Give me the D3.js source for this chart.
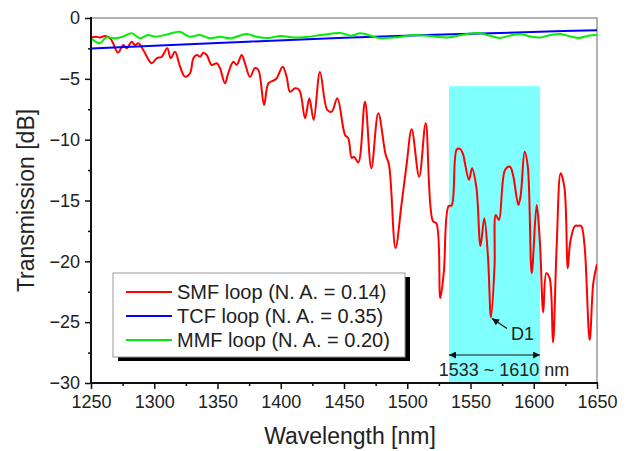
<!DOCTYPE html>
<html><head><meta charset="utf-8">
<script src="https://cdn.jsdelivr.net/npm/d3@7"></script>
<style>
html,body{margin:0;padding:0;background:#fff;}
svg{display:block;font-family:"Liberation Sans",Arial,sans-serif;}
</style></head>
<body><svg id="c" width="630" height="451"></svg>
<script>
// ---- data ----
const redWl = [1250,1254.0,1257.1,1261.1,1265.0,1267.4,1271.3,1275.5,1278.2,1282.2,1284.8,1287.4,1291.3,1298.0,1301.9,1305.9,1310.3,1313.0,1316.4,1320.4,1324.3,1328.3,1330.9,1333.6,1336.2,1338.8,1341.5,1345.4,1349.4,1352.0,1355.9,1358.5,1362.5,1365.2,1369.1,1371.7,1375.7,1379.6,1382.3,1386.8,1390.2,1394.1,1396.8,1401.5,1404.7,1407.3,1411.3,1414.7,1419.2,1422.6,1426.0,1431.0,1436.8,1440.3,1444.7,1450.8,1453.4,1456.1,1457.9,1461.3,1466.6,1471.6,1477.1,1482.8,1485.6,1490.7,1495.6,1499.6,1503.5,1509.4,1514.6,1520.2,1523.1,1526.1,1528.9,1532.7,1535.1,1539.1,1541.7,1544.3,1545.6,1548.8,1551.2,1554.7,1557.9,1560.9,1563.8,1566.2,1569.0,1570.0,1572.5,1577.3,1581.2,1583.8,1587.8,1589.7,1592.8,1595.3,1598.4,1602.3,1604.9,1607.5,1609.9,1612.5,1615.2,1618.1,1621.3,1624.3,1626.9,1628.9,1632.6,1635.0,1637.5,1640.1,1644.2,1647.1,1650];
const redDb = [-1.60,-1.54,-1.60,-1.48,-1.67,-2.05,-2.85,-2.22,-2.49,-1.95,-2.22,-2.08,-2.63,-3.72,-3.31,-3.18,-2.49,-3.31,-2.77,-4.00,-4.82,-4.54,-3.31,-3.04,-3.18,-2.85,-3.04,-3.86,-3.72,-4.13,-5.37,-4.54,-3.59,-3.86,-3.04,-3.72,-4.85,-4.11,-4.27,-7.15,-5.37,-5.15,-4.95,-4.00,-4.85,-6.06,-5.78,-5.92,-8.24,-6.60,-8.38,-4.44,-7.56,-7.70,-6.60,-9.61,-9.89,-11.50,-11.40,-11.87,-6.88,-12.35,-7.83,-11.18,-12.08,-18.90,-15.20,-11.94,-9.15,-13.04,-8.65,-16.68,-16.89,-23.01,-20.87,-15.45,-15.41,-10.81,-10.76,-11.26,-11.92,-13.31,-12.35,-13.97,-18.73,-16.46,-19.61,-24.61,-20.38,-16.19,-16.60,-12.49,-12.22,-12.98,-15.37,-14.54,-10.99,-12.22,-20.98,-15.37,-18.49,-24.20,-20.98,-21.36,-26.66,-18.79,-12.76,-13.97,-20.57,-18.37,-17.09,-17.08,-17.09,-18.65,-26.46,-21.78,-20.22];
const blueWl = [1250,1350,1450,1550,1650];
const blueDb = [-2.5,-2.05,-1.62,-1.3,-1.0];
const greenWl = [1250,1257,1262,1270,1276,1282,1289,1295,1301,1310,1320,1328,1336,1344,1352,1360,1373,1381,1390,1400,1410,1420,1432,1447,1456,1463,1478,1494,1505,1518,1532,1545,1557,1565,1573,1581,1589,1597,1605,1613,1621,1629,1636,1643,1650];
const greenDb = [-1.67,-2.08,-1.60,-1.67,-1.50,-1.26,-1.67,-1.40,-1.54,-1.35,-1.13,-1.54,-1.40,-1.67,-1.54,-1.67,-1.32,-1.54,-1.64,-1.48,-1.60,-1.56,-1.40,-1.23,-1.45,-1.26,-1.64,-1.56,-1.40,-1.48,-1.60,-1.35,-1.23,-1.45,-1.64,-1.45,-1.31,-1.52,-1.60,-1.40,-1.31,-1.52,-1.64,-1.45,-1.40];
const seriesNames = ["SMF loop (N. A. = 0.14)","TCF loop (N. A. = 0.35)","MMF loop (N. A. = 0.20)"];
const seriesColors = ["#ff0000","#0000ff","#00ee00"];
const xTicks = [1250,1300,1350,1400,1450,1500,1550,1600,1650];
const xMinor = [1275,1325,1375,1425,1475,1525,1575,1625];
const yTicks = [0,-5,-10,-15,-20,-25,-30];
const yMinor = [-2.5,-7.5,-12.5,-17.5,-22.5,-27.5];
const band = [1533,1605];       // shaded region
const bandTop = -5.6;
const bandLabel = "1533 ~ 1610 nm";
const arrowDb = -27.7;
const d1 = {wl:1566.2, db:-24.61, label:"D1"};

// ---- layout ----
const L=91, R=597, T=18, B=383;
const svg = d3.select("#c");
const x = d3.scaleLinear().domain([1250,1650]).range([L,R]);
const y = d3.scaleLinear().domain([-30,0]).range([B,T]);

// shaded band
svg.append("rect").attr("x",x(band[0])).attr("y",y(bandTop))
  .attr("width",x(band[1])-x(band[0])).attr("height",y(-30)-y(bandTop))
  .attr("fill","#80ffff");

// frame top/right
svg.append("rect").attr("x",L).attr("y",T).attr("width",R-L).attr("height",B-T)
  .attr("fill","none").attr("stroke","#666").attr("stroke-width",1);

svg.append("clipPath").attr("id","pc").append("rect")
  .attr("x",L).attr("y",T-2).attr("width",R-L).attr("height",B-T+2);

const g = svg.append("g").attr("clip-path","url(#pc)");
const mk = (wl,db,curve)=>d3.line().x((d,i)=>x(wl[i])).y((d,i)=>y(db[i])).curve(curve)(wl);
g.append("path").attr("d",mk(redWl,redDb,d3.curveCatmullRom.alpha(0.5)))
  .attr("fill","none").attr("stroke",seriesColors[0]).attr("stroke-width",2).attr("stroke-linejoin","round");
g.append("path").attr("d",mk(blueWl,blueDb,d3.curveMonotoneX))
  .attr("fill","none").attr("stroke",seriesColors[1]).attr("stroke-width",2);
g.append("path").attr("d",mk(greenWl,greenDb,d3.curveCatmullRom.alpha(0.5)))
  .attr("fill","none").attr("stroke",seriesColors[2]).attr("stroke-width",2);

// axes
const fontTick = "18px";
const xa = svg.append("g").attr("transform",`translate(0,${B})`)
  .call(d3.axisBottom(x).tickValues(xTicks).tickSize(6).tickPadding(6).tickFormat(d3.format("d")));
const xm = svg.append("g").attr("transform",`translate(0,${B})`)
  .call(d3.axisBottom(x).tickValues(xMinor).tickSize(3).tickFormat(""));
const ya = svg.append("g").attr("transform",`translate(${L},0)`)
  .call(d3.axisLeft(y).tickValues(yTicks).tickSize(6).tickPadding(5).tickFormat(d3.format("d")));
const ym = svg.append("g").attr("transform",`translate(${L},0)`)
  .call(d3.axisLeft(y).tickValues(yMinor).tickSize(3).tickFormat(""));
[xa,xm,ya,ym].forEach(a=>{
  a.select(".domain").remove();
  a.selectAll("line").attr("stroke","#111").attr("stroke-width",1.5);
  a.selectAll("text").attr("fill","#222").style("font-size",fontTick).style("font-family","'Liberation Sans',Arial,sans-serif");
});
svg.append("line").attr("x1",L).attr("x2",L).attr("y1",T-1).attr("y2",B+1).attr("stroke","#111").attr("stroke-width",2);
svg.append("line").attr("x1",L-1).attr("x2",R+1).attr("y1",B).attr("y2",B).attr("stroke","#111").attr("stroke-width",2);

// axis titles
svg.append("text").attr("x",350).attr("y",444).attr("text-anchor","middle")
  .attr("fill","#222").style("font-size","23px").text("Wavelength [nm]");
svg.append("text").attr("transform",`translate(34,${(T+B)/2}) rotate(-90)`).attr("text-anchor","middle")
  .attr("fill","#222").style("font-size","23px").text("Transmission [dB]");

// band annotation arrow
const defs = svg.append("defs");
defs.append("marker").attr("id","ah").attr("viewBox","0 0 10 10").attr("refX",10).attr("refY",5)
  .attr("markerWidth",9).attr("markerHeight",7).attr("markerUnits","userSpaceOnUse").attr("orient","auto-start-reverse")
  .append("path").attr("d","M0,0 L10,5 L0,10 Z").attr("fill","#111");
svg.append("line").attr("x1",x(band[0])).attr("x2",x(band[1])).attr("y1",y(arrowDb)).attr("y2",y(arrowDb))
  .attr("stroke","#111").attr("stroke-width",1.2).attr("marker-start","url(#ah)").attr("marker-end","url(#ah)");
svg.append("text").attr("x",504).attr("y",y(arrowDb)+21).attr("text-anchor","middle")
  .attr("fill","#222").style("font-size","18px").text(bandLabel);

// D1 annotation
const dx = x(d1.wl), dy = y(d1.db);
svg.append("line").attr("x1",dx+16).attr("y1",dy+11).attr("x2",dx+1).attr("y2",dy+1)
  .attr("stroke","#111").attr("stroke-width",1.2).attr("marker-end","url(#ah)");
svg.append("text").attr("x",dx+20).attr("y",dy+23).attr("fill","#222").style("font-size","18px").text(d1.label);

// legend
const lx=113, ly=273, lw=292, lh=84;
svg.append("rect").attr("x",lx+5).attr("y",ly+4).attr("width",lw).attr("height",lh).attr("fill","#000");
svg.append("rect").attr("x",lx).attr("y",ly).attr("width",lw).attr("height",lh).attr("fill","#fff").attr("stroke","#999").attr("stroke-width",1);
seriesNames.forEach((n,i)=>{
  const ry = ly+19+i*24;
  svg.append("line").attr("x1",lx+13).attr("x2",lx+59).attr("y1",ry).attr("y2",ry)
    .attr("stroke",seriesColors[i]).attr("stroke-width",2);
  svg.append("text").attr("x",lx+64).attr("y",ry+7).attr("fill","#222").style("font-size","20px").text(n);
});
</script></body></html>
